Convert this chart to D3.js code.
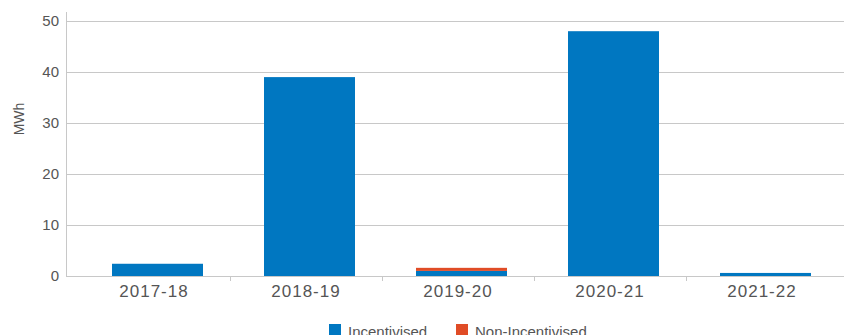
<!DOCTYPE html>
<html><head><meta charset="utf-8">
<script src="https://cdn.jsdelivr.net/npm/d3@7"></script>
<style>
body{margin:0;background:#fff;}
text{font-family:"Liberation Sans",Arial,Helvetica,sans-serif;fill:#555;}
</style></head>
<body><svg id="c" width="844" height="335"></svg>
<script>
const categories = ["2017-18","2018-19","2019-20","2020-21","2021-22"];
const incentivised = [2.4, 39.0, 1.0, 48.0, 0.6];
const nonIncentivised = [0, 0, 0.6, 0, 0];
const yTicks = [0,10,20,30,40,50];
const seriesNames = ["Incentivised","Non-Incentivised"];
const colors = ["#0077C1","#E04C26"];

const svg = d3.select("#c");
const y = d3.scaleLinear().domain([0,50]).range([276,21]);
const x = d3.scaleBand().domain(categories).range([78,838]);

// gridlines
svg.append("g").selectAll("line").data(yTicks.filter(t=>t>0)).join("line")
  .attr("x1",66).attr("x2",844).attr("y1",d=>y(d)+0.5).attr("y2",d=>y(d)+0.5)
  .attr("stroke","#c8c8c8").attr("stroke-width",1);
// y axis line
svg.append("line").attr("x1",66.5).attr("x2",66.5).attr("y1",12).attr("y2",276)
  .attr("stroke","#c8c8c8");
// y tick labels
svg.append("g").selectAll("text").data(yTicks).join("text")
  .attr("x",59).attr("y",d=>y(d)+5).attr("text-anchor","end")
  .style("font-size","15px").text(d=>d);
// y title
svg.append("text").attr("transform","translate(24,119) rotate(-90)")
  .attr("text-anchor","middle").style("font-size","14px").text("MWh");

// bars
const stacked = categories.map((c,i)=>({c, a:incentivised[i], b:nonIncentivised[i]}));
const g = svg.append("g");
g.selectAll("rect.a").data(stacked).join("rect").attr("class","a")
  .attr("x",d=>x(d.c)+34).attr("width",91)
  .attr("y",d=>y(d.a)).attr("height",d=>y(0)-y(d.a)).attr("fill",colors[0]);
g.selectAll("rect.b").data(stacked.filter(d=>d.b>0)).join("rect").attr("class","b")
  .attr("x",d=>x(d.c)+34).attr("width",91)
  .attr("y",d=>y(d.a+d.b)).attr("height",d=>y(d.a)-y(d.a+d.b)).attr("fill",colors[1]);

// x axis line
svg.append("line").attr("x1",66).attr("x2",844).attr("y1",276.5).attr("y2",276.5)
  .attr("stroke","#c8c8c8");
// ticks at interior band boundaries
svg.append("g").selectAll("line").data(categories.slice(1)).join("line")
  .attr("x1",d=>x(d)+0.5).attr("x2",d=>x(d)+0.5).attr("y1",276).attr("y2",281)
  .attr("stroke","#c8c8c8");
// x labels
svg.append("g").selectAll("text").data(categories).join("text")
  .attr("x",d=>x(d)+x.bandwidth()/2).attr("y",297)
  .attr("text-anchor","middle").style("font-size","17px").style("letter-spacing","1px")
  .text(d=>d);

// legend
const leg = svg.append("g");
const legX = [329, 456];
seriesNames.forEach((n,i)=>{
  leg.append("rect").attr("x",legX[i]).attr("y",324).attr("width",12).attr("height",12).attr("fill",colors[i]);
  leg.append("text").attr("x",legX[i]+19).attr("y",337).style("font-size","15px").text(n);
});
</script></body></html>
